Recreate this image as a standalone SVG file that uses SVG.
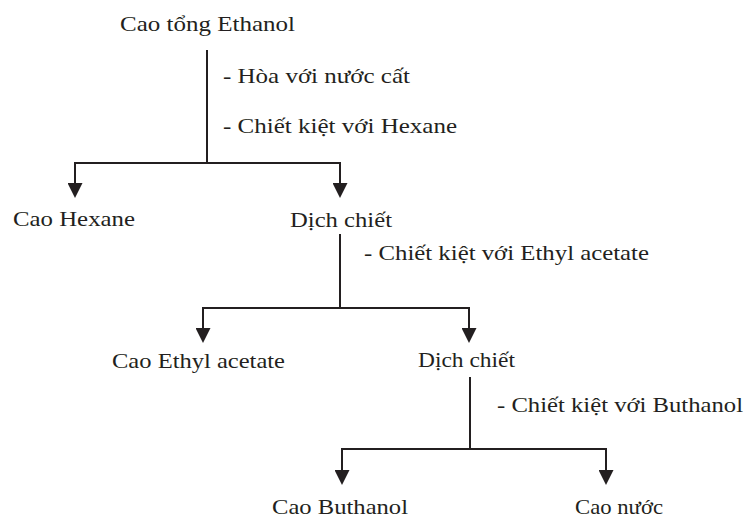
<svg xmlns="http://www.w3.org/2000/svg" width="747" height="520" viewBox="0 0 747 520">
  <style>
    text { font-family: "Liberation Serif", "Times New Roman", serif; font-size: 22px; fill: #231f20; }
    .ln { fill: none; stroke: #231f20; stroke-width: 2; }
  </style>
  <defs>
    <marker id="ah" viewBox="0 0 15 15" markerWidth="15" markerHeight="15" refX="1" refY="7.5" orient="auto" markerUnits="userSpaceOnUse">
      <path d="M0,0 L15,7.5 L0,15 Z" fill="#231f20"/>
    </marker>
  </defs>
  <rect width="747" height="520" fill="#ffffff"/>

  <g id="connectors">
    <path class="ln" d="M207,50 V163 M75,163 H340"/>
    <path class="ln" d="M75,162 V184" marker-end="url(#ah)"/>
    <path class="ln" d="M340,162 V184" marker-end="url(#ah)"/>

    <path class="ln" d="M340,234 V308 M203,308 H470"/>
    <path class="ln" d="M203,307 V329" marker-end="url(#ah)"/>
    <path class="ln" d="M469,307 V329" marker-end="url(#ah)"/>

    <path class="ln" d="M470,377 V449 M342,449 H606"/>
    <path class="ln" d="M342,448 V471" marker-end="url(#ah)"/>
    <path class="ln" d="M606,448 V471" marker-end="url(#ah)"/>
  </g>

  <g id="labels">
    <text x="223" y="83" textLength="187" lengthAdjust="spacingAndGlyphs">- Hòa với nước cất</text>
    <text x="223" y="133" textLength="234" lengthAdjust="spacingAndGlyphs">- Chiết kiệt với Hexane</text>
    <text x="364" y="260" textLength="285" lengthAdjust="spacingAndGlyphs">- Chiết kiệt với Ethyl acetate</text>
    <text x="497" y="412" textLength="246" lengthAdjust="spacingAndGlyphs">- Chiết kiệt với Buthanol</text>
  </g>

  <g id="n-cao-tong-ethanol"><text x="120" y="31" textLength="175" lengthAdjust="spacingAndGlyphs">Cao tổng Ethanol</text></g>
  <g id="n-cao-hexane"><text x="13" y="226" textLength="122" lengthAdjust="spacingAndGlyphs">Cao Hexane</text></g>
  <g id="n-dich-chiet-1"><text x="290" y="227" textLength="102" lengthAdjust="spacingAndGlyphs">Dịch chiết</text></g>
  <g id="n-cao-ethyl-acetate"><text x="112" y="368" textLength="173" lengthAdjust="spacingAndGlyphs">Cao Ethyl acetate</text></g>
  <g id="n-dich-chiet-2"><text x="418" y="367" textLength="97" lengthAdjust="spacingAndGlyphs">Dịch chiết</text></g>
  <g id="n-cao-buthanol"><text x="272" y="514" textLength="136" lengthAdjust="spacingAndGlyphs">Cao Buthanol</text></g>
  <g id="n-cao-nuoc"><text x="575" y="514" textLength="88" lengthAdjust="spacingAndGlyphs">Cao nước</text></g>
</svg>
